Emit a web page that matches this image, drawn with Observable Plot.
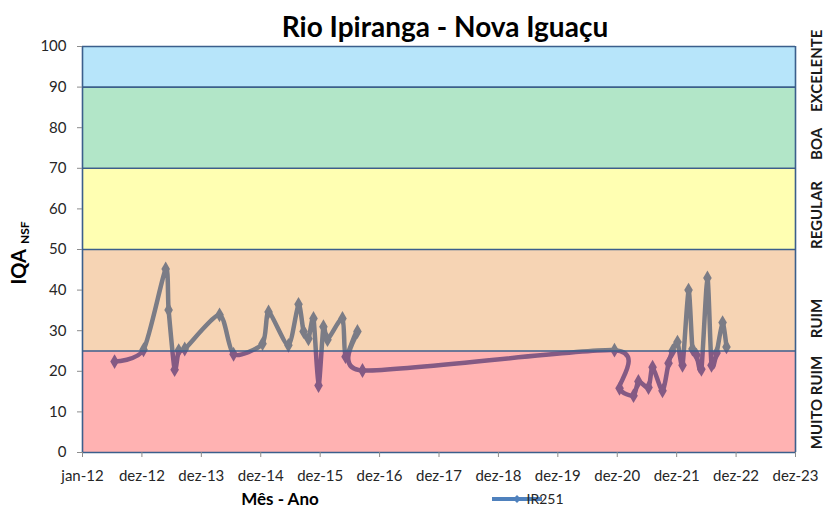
<!DOCTYPE html>
<html><head><meta charset="utf-8">
<script src="https://cdn.jsdelivr.net/npm/d3@7"></script>
<script src="https://cdn.jsdelivr.net/npm/@observablehq/plot@0.6"></script>
<style>body{margin:0;background:#fff} svg{display:block}</style>
</head><body><div id="chart"></div>
<script>
// ---- data ----
const dates = [
  "2012-07-16","2013-01-10","2013-05-26","2013-06-13","2013-07-20","2013-08-14","2013-09-20",
  "2014-04-22","2014-07-17","2015-01-11","2015-02-17","2015-06-19","2015-08-20","2015-09-20",
  "2015-10-20","2015-11-20","2015-12-21","2016-01-20","2016-02-14","2016-05-16","2016-06-04",
  "2016-08-16","2016-09-16",
  "2020-12-12","2021-01-12","2021-04-08","2021-05-08","2021-07-09","2021-08-03","2021-10-03",
  "2021-11-09","2021-12-03","2022-01-03","2022-02-03","2022-03-12","2022-04-05","2022-04-30",
  "2022-05-30","2022-07-06","2022-07-31","2022-08-31","2022-10-07","2022-10-31"
];
const iqa = [
  22.4, 25.3, 45.2, 35.1, 20.4, 25.1, 25.5,
  33.9, 24.2, 26.8, 34.6, 26.4, 36.5, 29.8,
  28.0, 33.0, 16.5, 31.0, 27.8, 33.0, 23.6,
  29.8, 20.2,
  25.2, 15.8, 14.0, 17.5, 16.0, 21.0, 15.2,
  22.0, 25.0, 27.2, 21.5, 40.0, 25.5, 24.0,
  20.5, 43.0, 21.5, 24.5, 32.0, 26.0
];
const seriesName = "IR251";
const bandLabels = ["MUITO RUIM", "RUIM", "REGULAR", "BOA", "EXCELENTE"];
const bandLow = [0, 25, 50, 70, 90];
const bandHigh = [25, 50, 70, 90, 100];
const bandColors = ["#ff0000", "#e07008", "#ffff00", "#00ac48", "#0fa8ef"];
const bandLabelY = [12.3, 33, 58.5, 76, 94];
const xTickDates = ["2012-01-01","2012-12-31","2013-12-31","2014-12-31","2015-12-31","2016-12-30",
  "2017-12-30","2018-12-30","2019-12-30","2020-12-29","2021-12-29","2022-12-29","2023-12-29"];
const xTickLabels = ["jan-12","dez-12","dez-13","dez-14","dez-15","dez-16","dez-17","dez-18",
  "dez-19","dez-20","dez-21","dez-22","dez-23"];
const yTicks = [0, 10, 20, 30, 40, 50, 60, 70, 80, 90, 100];
const bandEdges = [0, 25, 50, 70, 90, 100];

// ---- build ----
const parse = d3.utcParse("%Y-%m-%d");
const data = dates.map((d, i) => ({date: parse(d), value: iqa[i]}));
const bands = bandLow.map((lo, i) => ({lo, hi: bandHigh[i], color: bandColors[i], label: bandLabels[i], ly: bandLabelY[i]}));
const tickDates = xTickDates.map(parse);
const x0 = tickDates[0], x1 = tickDates[tickDates.length - 1];
const FONT = "Lato, 'Open Sans', sans-serif";
const BORDER = "#3b5f8c";

const chart = Plot.plot({
  width: 828, height: 512,
  marginLeft: 82, marginRight: 33, marginTop: 46, marginBottom: 60,
  style: {fontFamily: FONT, fontSize: "15px", color: "#262626", background: "#fff", overflow: "visible"},
  x: {type: "utc", domain: [x0, x1]},
  y: {domain: [0, 100]},
  color: {type: "identity"},
  marks: [
    Plot.line(data, {x: "date", y: "value", stroke: "#4f81bd", strokeWidth: 4.5, curve: "cardinal", tension: 0.3}),
    Plot.dot(data, {x: "date", y: "value", symbol: "diamond", r: 4.5, fill: "#4f81bd", stroke: "none"}),
    Plot.rect(bands, {x1: () => x0, x2: () => x1, y1: "lo", y2: "hi", fill: "color", fillOpacity: 0.3}),
    Plot.ruleY(bandEdges, {stroke: BORDER, strokeWidth: 1.6}),
    Plot.ruleX([x0, x1], {stroke: BORDER, strokeWidth: 1.6}),
    Plot.axisY({ticks: yTicks, tickSize: 5, tickPadding: 11, label: null, stroke: "#8c8c8c", fill: "#262626", fontSize: 15}),
    Plot.axisX({ticks: tickDates, tickSize: 5, tickPadding: 13, label: null, stroke: "#8c8c8c", fill: "#262626", fontSize: 15,
      tickFormat: d => xTickLabels[tickDates.findIndex(t => +t === +d)]}),
    Plot.text(bands, {x: () => x1, y: "ly", text: "label", rotate: -90, dx: 22, fontWeight: "bold", fontSize: 15, fill: "#1a1a1a", textAnchor: "middle"})
  ]
});
document.getElementById("chart").appendChild(chart);

const svg = d3.select(chart);
svg.append("text").attr("x", 445).attr("y", 37).attr("text-anchor", "middle")
  .style("font", `bold 28px ${FONT}`).attr("fill", "#000").text("Rio Ipiranga - Nova Iguaçu");
const yl = svg.append("text").attr("transform", "translate(26,253) rotate(-90)").attr("text-anchor", "middle")
  .style("font-family", FONT).style("font-weight", "bold").attr("fill", "#000");
yl.append("tspan").style("font-size", "20px").text("IQA");
yl.append("tspan").style("font-size", "12px").attr("dx", 5).attr("dy", 3).text("NSF");
svg.append("text").attr("x", 280).attr("y", 505).attr("text-anchor", "middle")
  .style("font", `bold 17px ${FONT}`).attr("fill", "#000").text("Mês - Ano");
svg.append("line").attr("x1", 492).attr("x2", 542).attr("y1", 499).attr("y2", 499)
  .attr("stroke", "#4f81bd").attr("stroke-width", 4);
svg.append("path").attr("d", "M517,495L521,499L517,503L513,499Z").attr("fill", "#4f81bd");
svg.append("text").attr("x", 545).attr("y", 504).style("font", `14px ${FONT}`).attr("fill", "#262626").text(seriesName);
</script></body></html>
